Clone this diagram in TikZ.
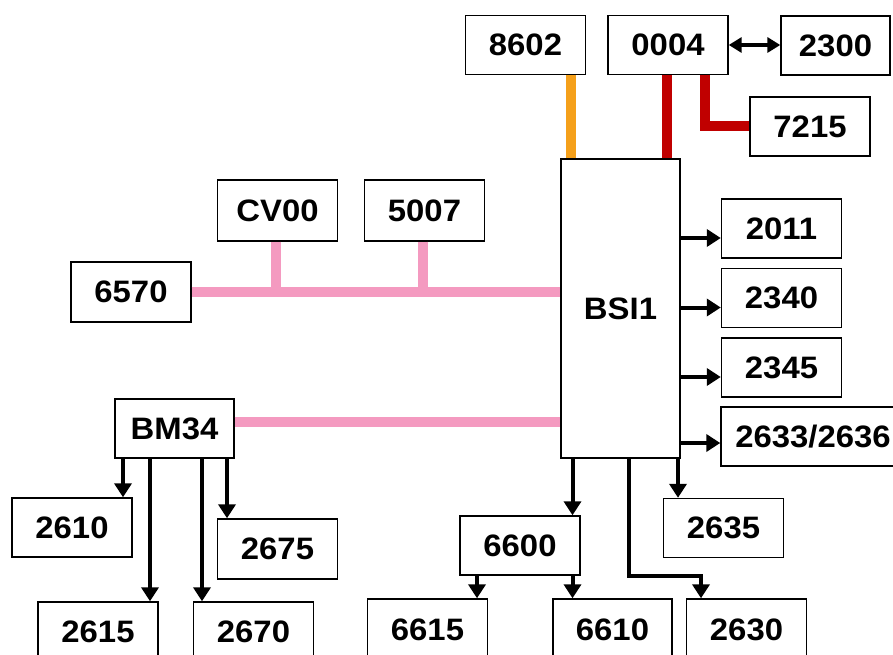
\documentclass[tikz,border=0pt]{standalone}
\usepackage{fontspec}
\setmainfont[FakeStretch=1.06]{Liberation Sans}
\usetikzlibrary{arrows.meta}
\definecolor{busorange}{HTML}{F5A01A}
\definecolor{busred}{HTML}{C00000}
\definecolor{buspink}{HTML}{F49AC0}

\begin{document}
\begin{tikzpicture}[x=1pt, y=-1pt,
    ecu/.style={draw, line width=1.4pt, fill=white, minimum width=120pt,
      minimum height=59pt, inner sep=0pt, font=\bfseries\fontsize{31}{36}\selectfont},
    arr/.style={line width=4pt, -{Triangle[length=14pt,width=17pt]}},
    obus/.style={busorange, line width=10pt},
    rbus/.style={busred, line width=10pt},
    pbus/.style={buspink, line width=10pt}]
    \useasboundingbox (0,0) rectangle (893,655);

    % Define units with coordinates
    \node[ecu] (b8602) at (525.5,45) {8602};
    \node[ecu] (b0004) at (668,45) {0004};
    \node[ecu, minimum width=109pt] (b2300) at (835.5,45.5) {2300};
    \node[ecu] (b7215) at (810,126.5) {7215};
    \node[ecu, minimum width=119pt, minimum height=299pt] (bsi) at (620.5,308.5) {BSI1};
    \node[ecu, minimum height=61pt] (bcv00) at (277.5,210.5) {CV00};
    \node[ecu, minimum height=61pt] (b5007) at (424.5,210.5) {5007};
    \node[ecu, minimum height=60pt] (b6570) at (131,292) {6570};
    \node[ecu] (b2011) at (781.5,228.5) {2011};
    \node[ecu] (b2340) at (781.5,298) {2340};
    \node[ecu] (b2345) at (781.5,367.5) {2345};
    \node[ecu, minimum width=184pt] (b2633) at (813,436.5) {2633/2636};
    \node[ecu, minimum width=119pt] (bm34) at (174.5,428.5) {BM34};
    \node[ecu] (b2610) at (72,527.5) {2610};
    \node[ecu, minimum height=60pt] (b2675) at (277.5,549) {2675};
    \node[ecu, minimum height=60pt] (b2615) at (98,632) {2615};
    \node[ecu, minimum height=60pt] (b2670) at (253.5,632) {2670};
    \node[ecu] (b6600) at (520,545.5) {6600};
    \node[ecu] (b2635) at (723.5,528) {2635};
    \node[ecu, minimum height=62pt] (b6615) at (427.5,630) {6615};
    \node[ecu, minimum width=119pt, minimum height=62pt] (b6610) at (612.5,630) {6610};
    \node[ecu, minimum height=62pt] (b2630) at (746.5,630) {2630};

    % Buses
    \draw[obus] ([xshift=45.5pt]b8602.south) -- ([xshift=-49.5pt]bsi.north);
    \draw[rbus] ([xshift=-1pt]b0004.south) -- ([xshift=46.5pt]bsi.north);
    \draw[rbus] ([xshift=37pt]b0004.south) |- (b7215.west);
    \draw[pbus] (b6570.east) -- (b6570.east -| bsi.west);
    \draw[pbus] ([xshift=-2pt]bcv00.south) -- ([xshift=-2pt]bcv00.south |- b6570.east);
    \draw[pbus] ([xshift=-1.5pt]b5007.south) -- ([xshift=-1.5pt]b5007.south |- b6570.east);
    \draw[pbus] ([yshift=6.5pt]bm34.east) -- ([yshift=6.5pt]bm34.east -| bsi.west);

    % Arrows
    \draw[line width=3.3pt, {Triangle[length=13pt,width=15pt]}-{Triangle[length=13pt,width=15pt]}]
      (b0004.east) -- (b2300.west |- b0004.east);
    \foreach \b in {b2011,b2340,b2345} {
      \draw[arr] ([yshift=-9.5pt]bsi.east |- \b.west) -- ([yshift=-9.5pt]\b.west);
    }
    \draw[arr] ([yshift=-6.5pt]bsi.east |- b2633.west) -- ([yshift=-6.5pt]b2633.west);
    \draw[arr] ([xshift=-51.5pt]bm34.south) -- ([xshift=-51.5pt]bm34.south |- b2610.north);
    \draw[arr] ([xshift=-24.5pt]bm34.south) -- ([xshift=-24.5pt]bm34.south |- b2615.north);
    \draw[arr] ([xshift=27.5pt]bm34.south) -- ([xshift=27.5pt]bm34.south |- b2670.north);
    \draw[arr] ([xshift=52.5pt]bm34.south) -- ([xshift=52.5pt]bm34.south |- b2675.north);
    \draw[arr] ([xshift=-48pt]bsi.south) -- ([xshift=-48pt]bsi.south |- b6600.north);
    \draw[arr] ([xshift=57.5pt]bsi.south) -- ([xshift=57.5pt]bsi.south |- b2635.north);
    \draw[arr] ([xshift=8.5pt]bsi.south) |- ([xshift=-45.5pt,yshift=22pt]b2630.north)
      -- ([xshift=-45.5pt]b2630.north);
    \draw[arr] ([xshift=-43pt]b6600.south) -- ([xshift=-43pt]b6600.south |- b6615.north);
    \draw[arr] ([xshift=52.5pt]b6600.south) -- ([xshift=52.5pt]b6600.south |- b6610.north);

\end{tikzpicture}
\end{document}
